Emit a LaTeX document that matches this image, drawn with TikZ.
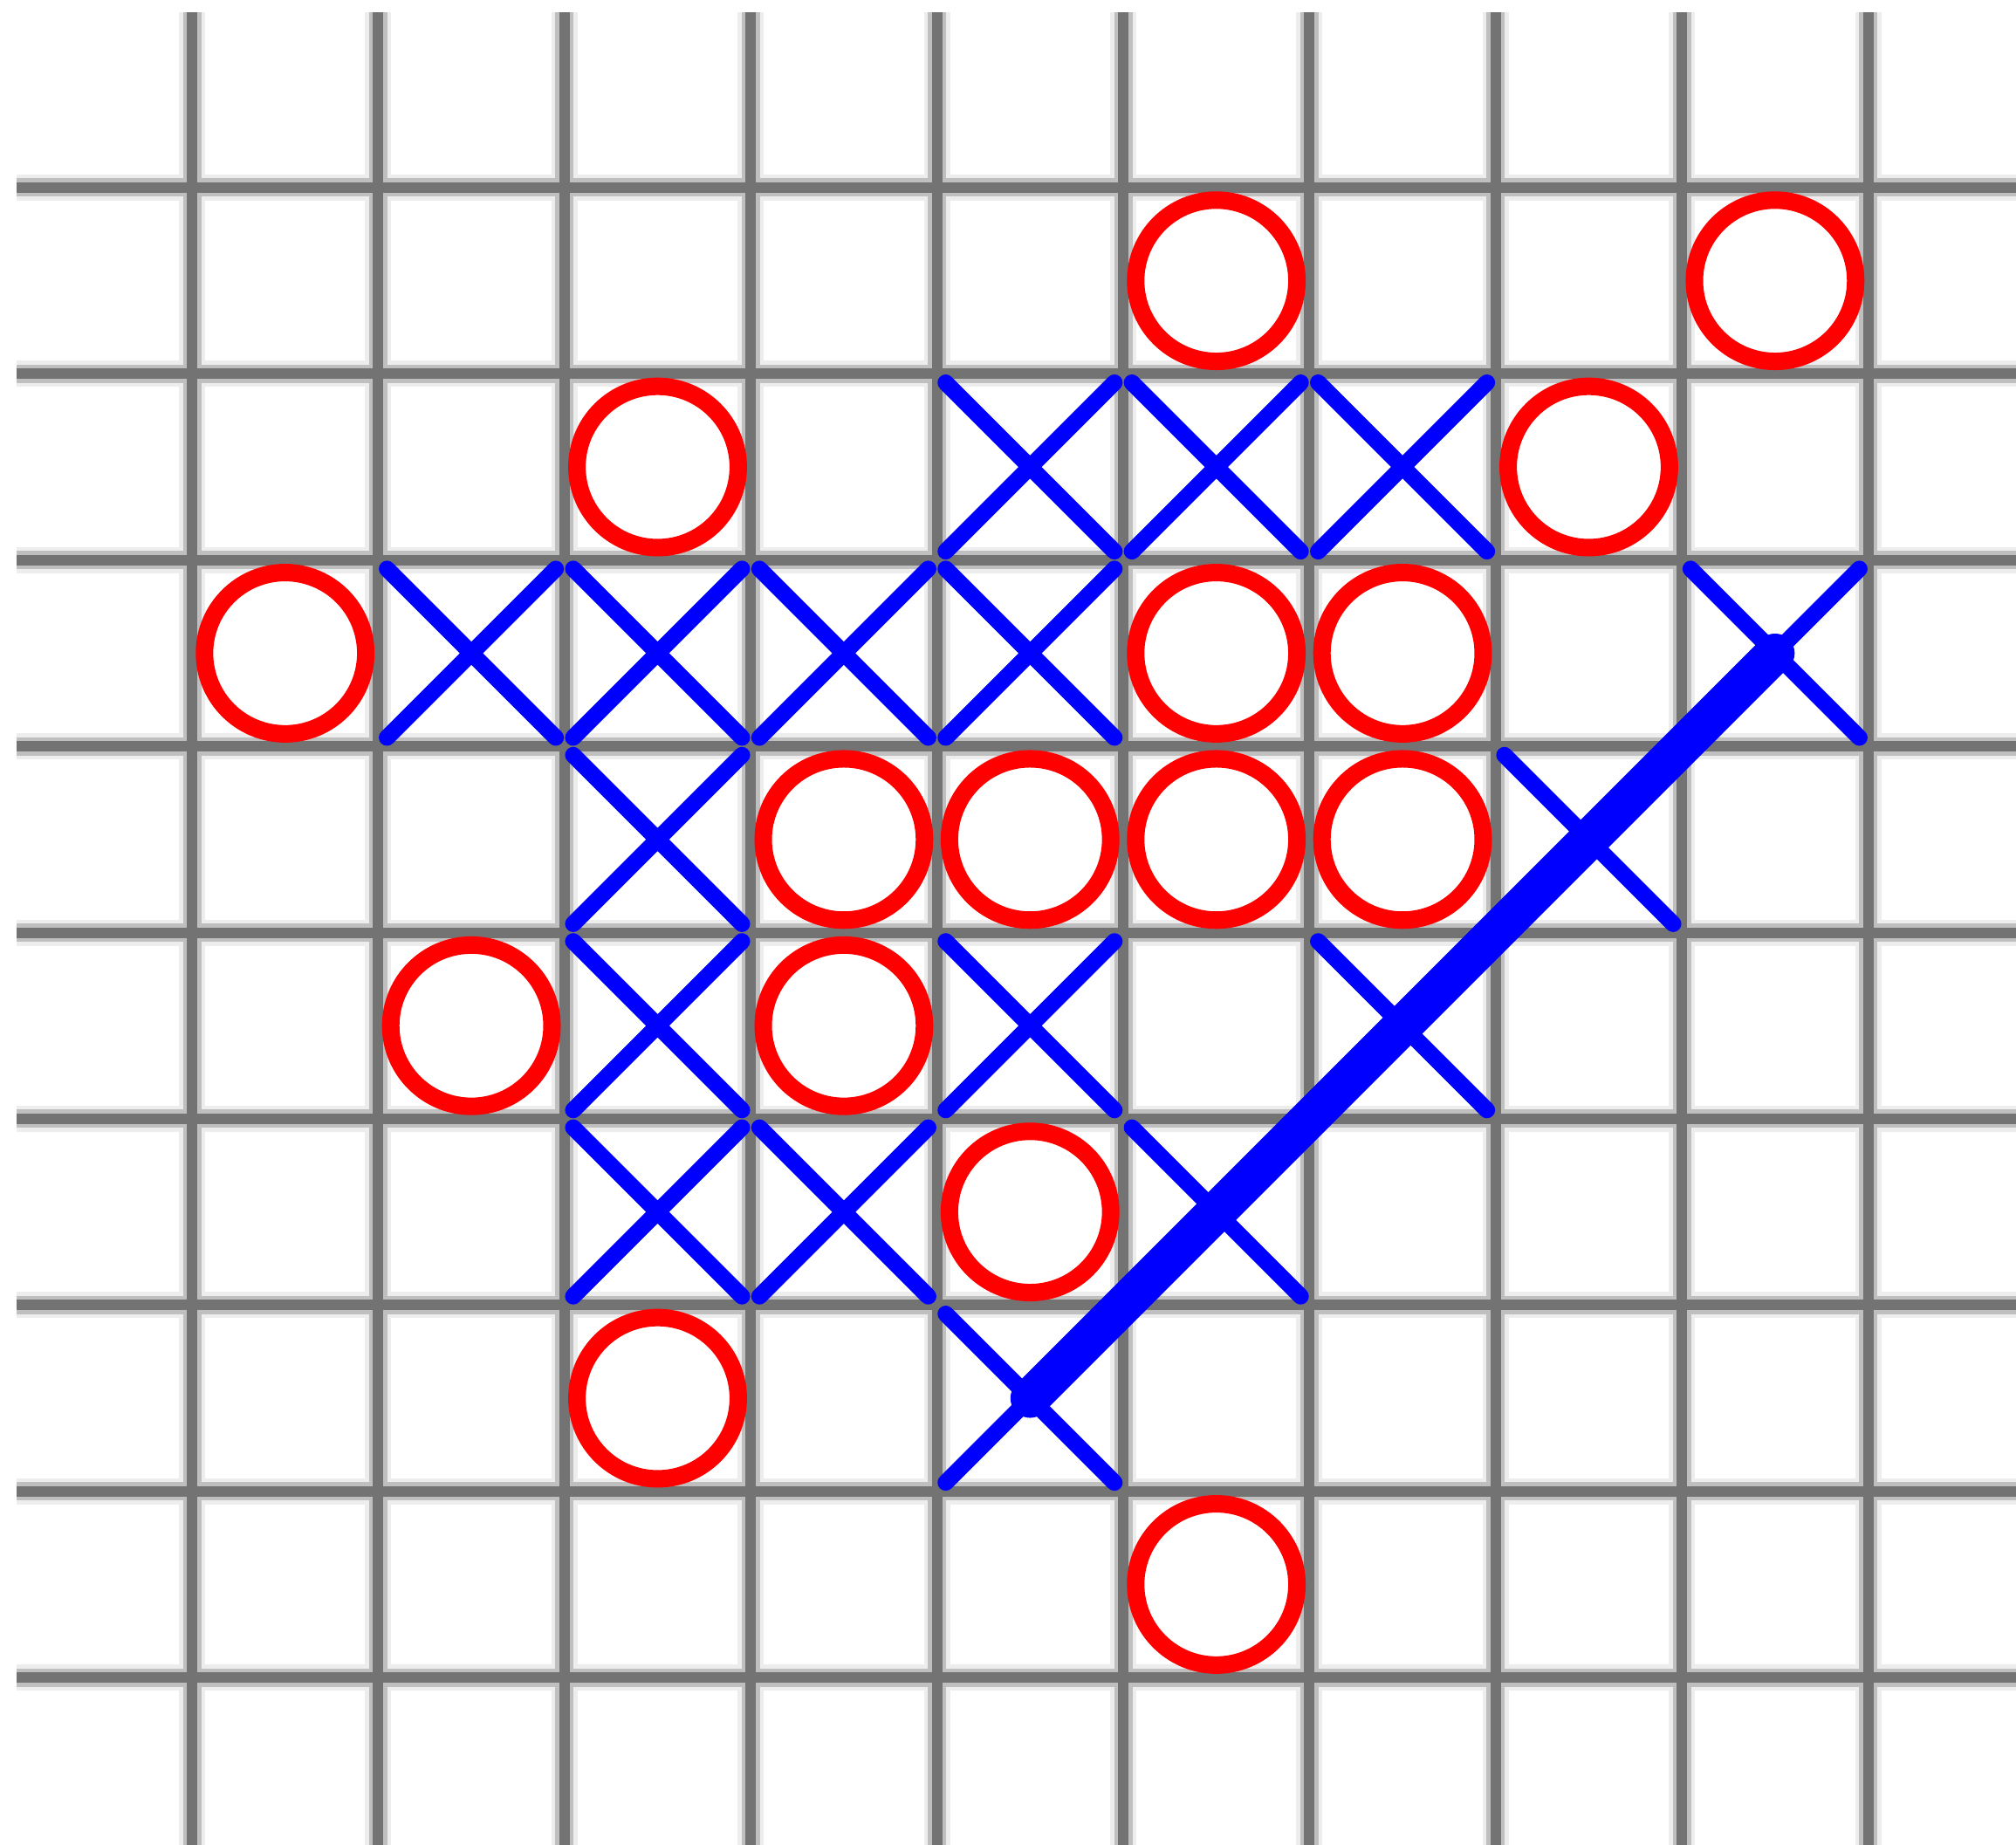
\documentclass[tikz,border=0pt]{standalone}
\usetikzlibrary{shapes.misc}
\begin{document}
\begin{tikzpicture}[
  gridhaloa/.style={line width=4pt, black!7},
  gridhalob/.style={line width=2.8pt, black!25},
  gridcore/.style={line width=1.6pt, black!55},
  omark/.style={circle, draw=red, line width=2.67pt, minimum size=0.866cm, inner sep=0pt, outer sep=0pt},
  xmark/.style={cross out, draw=blue, line width=2.5pt, line cap=round, minimum size=0.906cm, inner sep=0pt, outer sep=0pt},
  winline/.style={draw=blue, line width=6pt, line cap=round}
]
\useasboundingbox[fill=white] (0,0) rectangle (10.825,9.906);
% grid
\foreach \st in {gridhaloa,gridhalob,gridcore} {
  \foreach \i in {0,...,9} {
    \draw[\st] ({1.031+\i},9.840) -- ({1.031+\i},0);
  }
  \foreach \j in {0,...,8} {
    \draw[\st] (0.089,{8.8985-\j}) -- (10.825,{8.8985-\j});
  }
}
\begin{scope}[shift={(1.031,8.8985)}, yscale=-1]
  \foreach \k/\r in {5/0,8/0, 2/1,7/1, 0/2,5/2,6/2, 3/3,4/3,5/3,6/3, 1/4,3/4, 4/5, 2/6, 5/7} {
    \node[omark] (o\k\r) at ({\k+0.5},{\r+0.5}) {};
  }
  \foreach \k/\r in {4/1,5/1,6/1, 1/2,2/2,3/2,4/2,8/2, 2/3,7/3, 2/4,4/4,6/4, 2/5,3/5,5/5, 4/6} {
    \node[xmark] (x\k\r) at ({\k+0.5},{\r+0.5}) {};
  }
  \draw[winline] (x46.center) -- (x82.center);
\end{scope}
\end{tikzpicture}
\end{document}
